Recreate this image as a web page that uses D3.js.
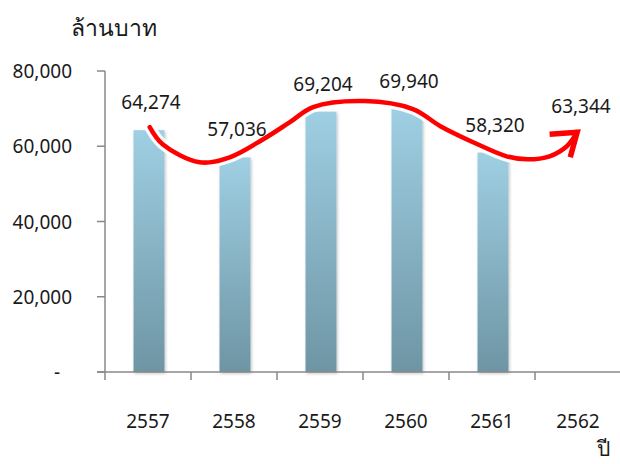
<!DOCTYPE html>
<html><head><meta charset="utf-8">
<script src="https://cdn.jsdelivr.net/npm/d3@7"></script>
<style>
html,body{margin:0;padding:0;background:#fff;}
svg{display:block;}
text{font-family:"Noto Sans","Open Sans",sans-serif;fill:#1a1a1a;}
</style></head>
<body>
<svg id="c" width="620" height="464"></svg>
<script>
// ---- data ----
const years = ["2557","2558","2559","2560","2561","2562"];
const values = [64274, 57036, 69204, 69940, 58320, null];
const labels = ["64,274","57,036","69,204","69,940","58,320","63,344"];
const labelValues = [64274, 57036, 69204, 69940, 58320, 63344];
const yTicks = [0, 20000, 40000, 60000, 80000];
const yTitle = "ล้านบาท";
const xTitle = "ปี";
// hand-drawn trend arrow, in data space (category index, value)
const trendIdx = [0.02, 0.17, 0.60, 0.95, 1.34, 1.65, 1.92, 2.52, 3.08, 3.40, 3.78, 4.17, 4.41, 4.67, 4.87, 4.99];
const trendVal = [65070, 60530, 55730, 57070, 61870, 66400, 70400, 72000, 69870, 65330, 61070, 57330, 56530, 57330, 60000, 63730];
const headIdx = [4.67, 4.99, 4.91];
const headVal = [63200, 63730, 57070];

const svg = d3.select("#c");
const x = d3.scaleBand().domain(years).range([105, 621]).paddingInner(0).paddingOuter(0);
const y = d3.scaleLinear().domain([0, 80000]).range([372, 71]);
const xi = d3.scaleLinear().domain([0, years.length]).range([105, 621]); // index -> px (band start)
const xc = i => xi(i + 0.5);

const defs = svg.append("defs");
const g = defs.append("linearGradient").attr("id","bg").attr("x1",0).attr("y1",0).attr("x2",0).attr("y2",1);
g.append("stop").attr("offset","0%").attr("stop-color","#9fcfe3");
g.append("stop").attr("offset","100%").attr("stop-color","#6e95a4");
const f = defs.append("filter").attr("id","sh").attr("x","-30%").attr("y","-10%").attr("width","160%").attr("height","130%");
f.append("feDropShadow").attr("dx",1).attr("dy",1.5).attr("stdDeviation",1.5).attr("flood-color","#000").attr("flood-opacity",0.25);

// bars
const bw = x.bandwidth() * 0.36;
svg.append("g").selectAll("rect").data(years.map((yr,i)=>({yr, v: values[i]})).filter(d=>d.v!=null))
  .join("rect")
  .attr("x", d => x(d.yr) + x.bandwidth()/2 - bw/2 + 1)
  .attr("y", d => y(d.v))
  .attr("width", bw)
  .attr("height", d => y(0) - y(d.v))
  .attr("fill", "url(#bg)")
  .attr("filter","url(#sh)");

// axes
const axc = "#888";
const ax = svg.append("g");
ax.append("line").attr("x1",105).attr("x2",105).attr("y1",y(80000)).attr("y2",y(0)).attr("stroke",axc).attr("stroke-width",1.5);
ax.selectAll(".yt").data(yTicks).join("line")
  .attr("x1",97).attr("x2",105).attr("y1",d=>y(d)).attr("y2",d=>y(d)).attr("stroke",axc).attr("stroke-width",1.5);
ax.selectAll(".yl").data(yTicks).join("text")
  .attr("x", d => d===0 ? 60 : 72)
  .attr("y", d => y(d) + 7)
  .attr("text-anchor","end")
  .attr("font-size","19px")
  .text(d => d===0 ? "-" : d3.format(",")(d));
ax.append("line").attr("x1",97).attr("x2",620).attr("y1",y(0)).attr("y2",y(0)).attr("stroke",axc).attr("stroke-width",1.5);
const bounds = years.map(d=>x(d)).concat([x.range()[1]]);
ax.selectAll(".xt").data(bounds).join("line")
  .attr("x1",d=>d).attr("x2",d=>d).attr("y1",y(0)).attr("y2",y(0)+8).attr("stroke",axc).attr("stroke-width",1.5);
ax.selectAll(".xl").data(years).join("text")
  .attr("x", d => x(d) + x.bandwidth()/2)
  .attr("y", 428)
  .attr("text-anchor","middle")
  .attr("font-size","19px")
  .text(d=>d);

// titles
svg.append("text").attr("x",71).attr("y",36).attr("font-size","23px").text(yTitle);
svg.append("text").attr("x",597).attr("y",456).attr("font-size","21px").text(xTitle);

// trend arrow
const pts = trendIdx.map((t,i)=>[xc(t), y(trendVal[i])]);
const line = d3.line().curve(d3.curveCatmullRom.alpha(0.5));
svg.append("path").attr("d", line(pts)).attr("fill","none").attr("stroke","#fff").attr("stroke-width",11).attr("stroke-linecap","round").attr("opacity",0.9);
svg.append("path").attr("d", line(pts)).attr("fill","none").attr("stroke","#ff0000").attr("stroke-width",4.5).attr("stroke-linecap","round");
const hp = headIdx.map((t,i)=>[xc(t), y(headVal[i])]);
svg.append("path").attr("d", d3.line()(hp)).attr("fill","none").attr("stroke","#ff0000").attr("stroke-width",5.5).attr("stroke-linejoin","miter");

// value labels
svg.append("g").selectAll("text").data(labels).join("text")
  .attr("x", (d,i) => xc(i) + 3)
  .attr("y", (d,i) => y(labelValues[i]) - 21)
  .attr("text-anchor","middle")
  .attr("font-size","19px")
  .text(d=>d);
</script>
</body></html>
